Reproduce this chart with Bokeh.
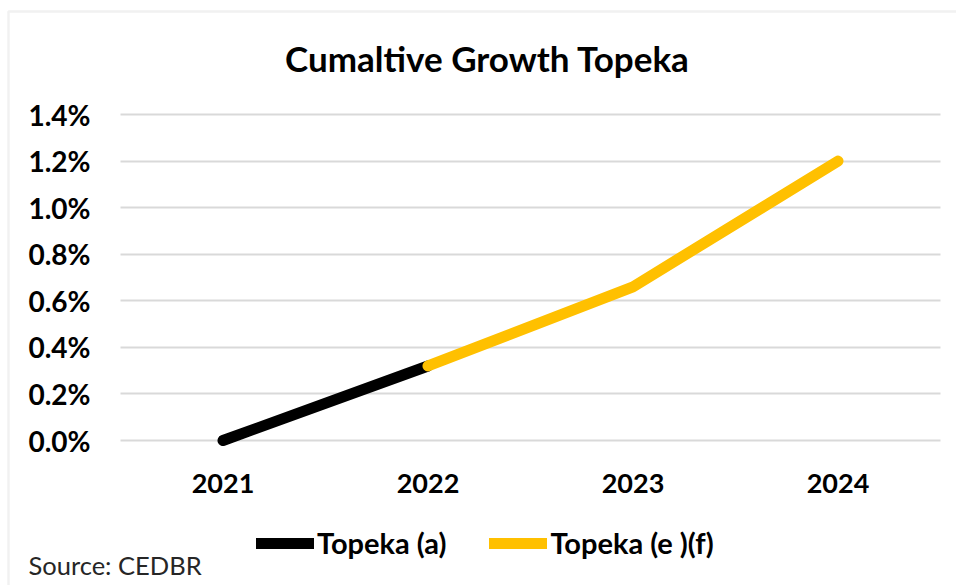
from bokeh.plotting import figure
from bokeh.models import (Range1d, FixedTicker, NumeralTickFormatter,
                          Legend, LegendItem, Label, BoxAnnotation)
from bokeh.embed import file_html
from bokeh.resources import INLINE

# ---- data ----
years = [2021, 2022, 2023, 2024]
actual_years = [2021, 2022]
actual_values = [0.0, 0.0032]
forecast_years = [2022, 2023, 2024]
forecast_values = [0.0032, 0.0066, 0.0120]
y_ticks = [0.0, 0.002, 0.004, 0.006, 0.008, 0.010, 0.012, 0.014]
title_text = "Cumaltive Growth Topeka"
series_names = ["Topeka (a)", "Topeka (e )(f)"]
source_text = "Source: CEDBR"

FONT = "Lato"
W, H = 956, 585
# layout (pixels): plot area where the years and percentages are drawn
PX_YEAR0, PX_PER_YEAR = 222.5, 205.0      # x pixel of first year, pixels per year
PY_TOP, PY_ZERO = 114.0, 440.0            # pixel rows of 1.4% and 0.0%

x0 = years[0] - PX_YEAR0 / PX_PER_YEAR
x1 = years[0] + (W - PX_YEAR0) / PX_PER_YEAR
ymax = y_ticks[-1]
ppu = (PY_ZERO - PY_TOP) / ymax
y0 = -(H - PY_ZERO) / ppu
y1 = ymax + PY_TOP / ppu

p = figure(width=W, height=H, output_backend="svg", toolbar_location=None,
           x_range=Range1d(x0, x1), y_range=Range1d(y0, y1),
           min_border=0, min_border_left=0, min_border_right=0,
           min_border_top=0, min_border_bottom=0)
p.outline_line_color = None
p.background_fill_color = "white"
p.border_fill_color = "white"

# chart border (top and left)
p.add_layout(BoxAnnotation(left=8, right=W + 50, top=H - 11, bottom=-50,
                           left_units="screen", right_units="screen",
                           top_units="screen", bottom_units="screen",
                           fill_alpha=0, line_color="#d0d0d0", line_width=2.5))

# grid
p.xgrid.grid_line_color = None
p.ygrid.grid_line_color = "#d9d9d9"
p.ygrid.grid_line_width = 2
p.ygrid.cross_bounds = (years[0] - 0.5, years[-1] + 0.5)
p.ygrid.bounds = (y_ticks[0], y_ticks[-1])
p.yaxis.ticker = FixedTicker(ticks=y_ticks)
p.xaxis.ticker = FixedTicker(ticks=years)

# axes
for ax in (p.xaxis[0], p.yaxis[0]):
    ax.axis_line_color = None
    ax.major_tick_line_color = None
    ax.minor_tick_line_color = None
    ax.major_tick_out = 0
    ax.major_tick_in = 0
    ax.major_label_text_font = FONT
    ax.major_label_text_font_style = "bold"
    ax.major_label_text_color = "#000000"
p.xaxis.major_label_text_font_size = "27px"
p.yaxis.major_label_text_font_size = "28px"
p.yaxis.formatter = NumeralTickFormatter(format="0.0%")
p.yaxis.fixed_location = years[0] - 0.5
p.xaxis.fixed_location = 0
p.yaxis.major_label_standoff = 30
p.xaxis.major_label_standoff = 33

# lines
r1 = p.line(actual_years, actual_values, line_color="#000000", line_width=11,
            line_cap="round", line_join="round")
r2 = p.line(forecast_years, forecast_values, line_color="#ffc000", line_width=11,
            line_cap="round", line_join="round")

legend = Legend(items=[LegendItem(label=series_names[0], renderers=[r1]),
                       LegendItem(label=series_names[1], renderers=[r2])],
                orientation="horizontal", location=(256, 25),
                border_line_color=None, background_fill_alpha=0,
                padding=0, margin=0, spacing=43, label_standoff=3,
                glyph_width=58, glyph_height=30, label_height=30,
                label_text_font=FONT, label_text_font_style="bold",
                label_text_font_size="29px", label_text_color="#000000")
p.add_layout(legend, "center")

p.add_layout(Label(x=487, y=H - 57, x_units="screen", y_units="screen",
                   text=title_text, text_font=FONT, text_font_style="bold",
                   text_font_size="35px", text_align="center",
                   text_baseline="middle", text_color="#000000"))

p.add_layout(Label(x=28, y=H - 564, x_units="screen", y_units="screen",
                   text=source_text, text_font=FONT, text_font_size="25.5px",
                   text_align="left", text_baseline="middle",
                   text_color="#262626"))

open("out.html", "w").write(file_html(p, INLINE))
